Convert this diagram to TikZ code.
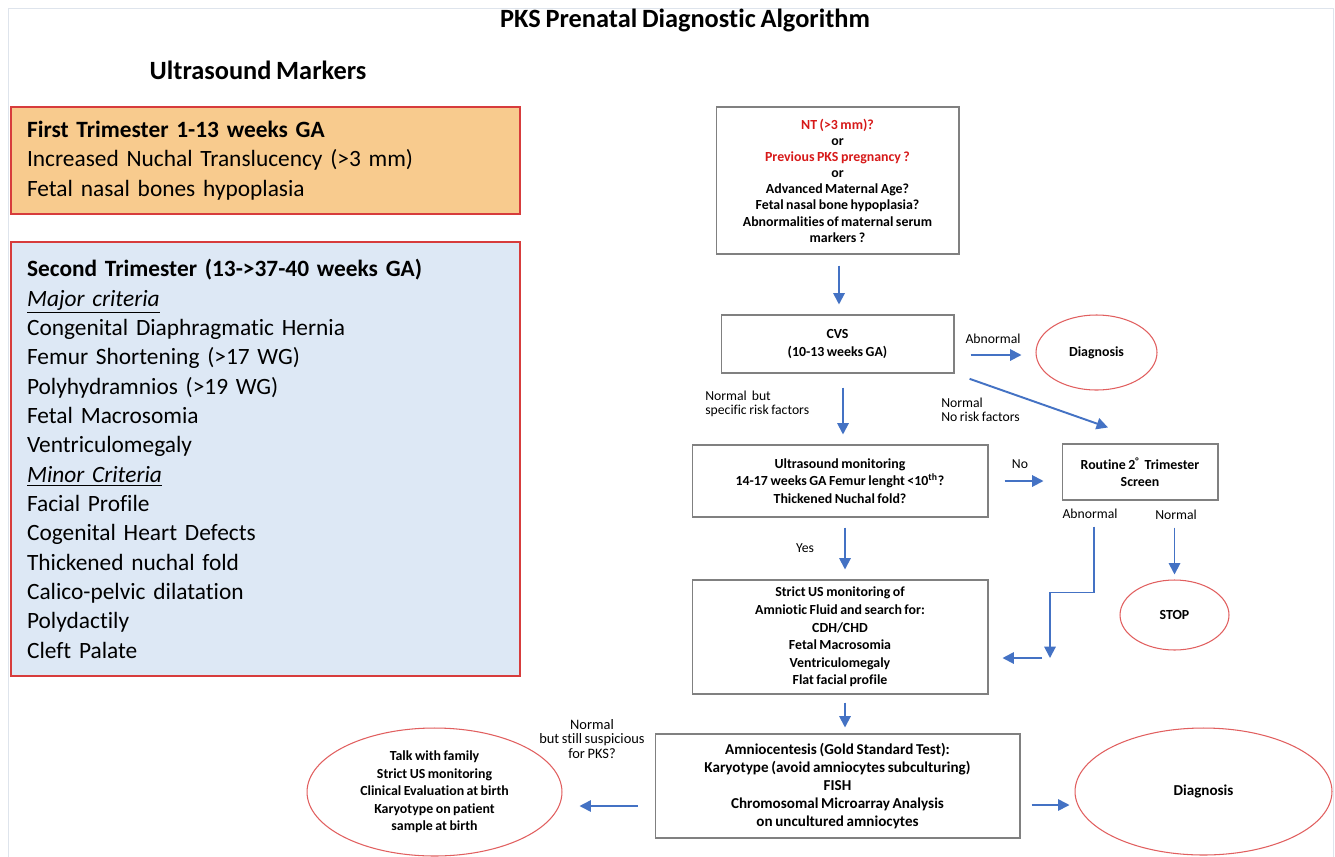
\documentclass[tikz,border=0pt]{standalone}
\usepackage{xcolor}
\usepackage{fontspec}
\setmainfont{Carlito}[Ligatures=NoCommon, WordSpace=0.8]
\usepackage{tikz}
\usetikzlibrary{shapes.geometric,arrows.meta}
\definecolor{boxgray}{RGB}{128, 128, 128}
\definecolor{pagegray}{RGB}{222, 228, 236}
\definecolor{framered}{RGB}{215, 60, 60}
\definecolor{ovalred}{RGB}{225, 95, 95}
\definecolor{alertred}{RGB}{215, 25, 25}
\definecolor{firstorange}{RGB}{248, 203, 142}
\definecolor{secondblue}{RGB}{221, 232, 245}
\definecolor{flowblue}{RGB}{68, 114, 196}

\tikzset{
    trimbox/.style={draw=framered, line width=0.8pt, align=left, anchor=center,
        inner xsep=0.32cm, text width=9.54cm, font=\fontsize{13.3}{16.7}\selectfont},
    flowbox/.style={draw=boxgray, fill=white, line width=0.6pt, align=center, inner sep=0pt,
        font=\fontsize{7.9}{10}\selectfont\bfseries},
    outcome/.style={ellipse, draw=ovalred, line width=0.6pt, align=center, inner sep=0pt,
        font=\fontsize{7.9}{10}\selectfont\bfseries},
    flowarrow/.style={draw=flowblue, line width=1.1pt, -{Triangle[length=6.5pt, width=6.5pt]}},
    flowlabel/.style={align=left, inner sep=0pt, font=\fontsize{7.8}{8.2}\selectfont}
}

\begin{document}
\begin{tikzpicture}[x=0.02cm, y=-0.02cm]
    \useasboundingbox[fill=white] (0,0) rectangle (1335,856);
    \draw[pagegray, line width=0.4pt] (8,8) rectangle (1333,870);

    % headings
    \node[font=\fontsize{15}{17}\selectfont\bfseries] (title) at (685,20) {PKS Prenatal Diagnostic Algorithm};
    \node[font=\fontsize{15}{17}\selectfont\bfseries] (markers) at (258,70) {Ultrasound Markers};

    % ultrasound markers
    \node[trimbox, fill=firstorange, minimum height=2.14cm] (first) at (265.5,160.5) {
        {\bfseries First Trimester 1-13 weeks GA}\\
        Increased Nuchal Translucency (>3 mm)\\
        Fetal nasal bones hypoplasia};
    \node[trimbox, fill=secondblue, minimum height=8.68cm] (second) at (265.5,459) {
        {\bfseries Second Trimester (13->37-40 weeks GA)}\\
        \underline{\itshape Major criteria}\\
        Congenital Diaphragmatic Hernia\\
        Femur Shortening (>17 WG)\\
        Polyhydramnios (>19 WG)\\
        Fetal Macrosomia\\
        Ventriculomegaly\\
        \underline{\itshape Minor Criteria}\\
        Facial Profile\\
        Cogenital Heart Defects\\
        Thickened nuchal fold\\
        Calico-pelvic dilatation\\
        Polydactily\\
        Cleft Palate};

    % algorithm
    \node[flowbox, minimum width=4.86cm, minimum height=2.94cm,
        font=\fontsize{7.9}{9.2}\selectfont\bfseries] (screen) at (837.5,180.5) {
        {\color{alertred}NT (>3 mm)?}\\
        or\\
        {\color{alertred}Previous PKS pregnancy ?}\\
        or\\
        Advanced Maternal Age?\\
        Fetal nasal bone hypoplasia?\\
        Abnormalities of maternal serum\\
        markers ?};
    \node[flowbox, minimum width=4.66cm, minimum height=1.16cm] (cvs) at (837.5,344) {CVS\\(10-13 weeks GA)};
    \node[outcome, minimum width=2.42cm, minimum height=1.5cm] (diagcvs) at (1096.5,352.5) {Diagnosis};
    \node[flowbox, minimum width=5.92cm, minimum height=1.44cm] (usmonitor) at (840,481) {
        Ultrasound monitoring\\
        14-17 weeks GA Femur lenght <10\textsuperscript{th}?\\
        Thickened Nuchal fold?};
    \node[flowbox, minimum width=3.12cm, minimum height=1.12cm] (routine) at (1140,472) {Routine 2\textsuperscript{°}\ \ Trimester\\Screen};
    \node[outcome, minimum width=2.18cm, minimum height=1.4cm] (stop) at (1174.5,615) {STOP};
    \node[flowbox, minimum width=5.92cm, minimum height=2.28cm] (strict) at (840,637) {
        Strict US monitoring of\\
        Amniotic Fluid and search for:\\
        CDH/CHD\\
        Fetal Macrosomia\\
        Ventriculomegaly\\
        Flat facial profile};
    \node[flowbox, minimum width=7.3cm, minimum height=2.08cm,
        font=\fontsize{8.6}{10.2}\selectfont\bfseries] (amnio) at (837.5,786) {
        Amniocentesis (Gold Standard Test):\\
        Karyotype (avoid amniocytes subculturing)\\
        FISH\\
        Chromosomal Microarray Analysis\\
        on uncultured amniocytes};
    \node[outcome, minimum width=5.14cm, minimum height=2.54cm,
        font=\fontsize{8.6}{10}\selectfont\bfseries] (diagamnio) at (1203.5,791.5) {Diagnosis};
    \node[outcome, minimum width=5.1cm, minimum height=2.56cm] (family) at (434.5,792) {
        Talk with family\\
        Strict US monitoring\\
        Clinical Evaluation at birth\\
        Karyotype on patient\\
        sample at birth};
    \coordinate (merge) at (1050,658);

    % labels
    \node[flowlabel] (lababn) at (993,339) {Abnormal};
    \node[flowlabel, anchor=west] (labrisk) at (705,404) {Normal\ \ but\\specific risk factors};
    \node[flowlabel, anchor=west] (labnorisk) at (941,410) {Normal\\No risk factors};
    \node[flowlabel] (labno) at (1020,464) {No};
    \node[flowlabel] (labrabn) at (1090,514) {Abnormal};
    \node[flowlabel] (labrnorm) at (1176,515) {Normal};
    \node[flowlabel] (labyes) at (805,548) {Yes};
    \node[flowlabel, align=center, font=\fontsize{8.2}{8.4}\selectfont] (labsusp) at (592,739) {Normal\\but still suspicious\\for PKS?};

    % connectors
    \draw[flowarrow, shorten <=0.22cm, shorten >=0.2cm] ([xshift=0.03cm]screen.south) -- ([xshift=0.03cm]cvs.north);
    \draw[flowarrow, shorten <=0.32cm, shorten >=0.28cm] ([yshift=-0.22cm]cvs.east) -- ([yshift=-0.22cm]cvs.east -| diagcvs.west);
    \draw[flowarrow, shorten <=0.28cm, shorten >=0.2cm] ([xshift=0.11cm]cvs.south) -- ([xshift=0.11cm]cvs.south |- usmonitor.north);
    \draw[flowarrow, shorten <=0.32cm] (cvs.south east) -- ([xshift=-0.64cm, yshift=0.32cm]routine.north);
    \draw[flowarrow, shorten <=0.32cm, shorten >=0.36cm] (usmonitor.east) -- (usmonitor.east -| routine.west);
    \draw[flowarrow, shorten <=0.2cm, shorten >=0.2cm] ([xshift=0.1cm]usmonitor.south) -- ([xshift=0.1cm]usmonitor.south |- strict.north);
    \draw[flowarrow, shorten <=0.54cm, shorten >=0.1cm] (routine.south -| stop.north) -- (stop.north);
    \draw[flowarrow, shorten <=0.52cm] ([xshift=-0.92cm]routine.south) -- ++(0,92) -| (merge);
    \draw[flowarrow, shorten <=0.16cm, shorten >=0.28cm] (merge) -- (merge -| strict.east);
    \draw[flowarrow, shorten <=0.16cm, shorten >=0.12cm] ([xshift=0.1cm]strict.south) -- ([xshift=0.1cm]strict.south |- amnio.north);
    \draw[flowarrow, line width=0.9pt, shorten <=0.22cm, shorten >=0.1cm] ([yshift=-0.38cm]amnio.east) -- ([yshift=-0.38cm]amnio.east -| diagamnio.west);
    \draw[flowarrow, line width=0.9pt, shorten <=0.34cm, shorten >=0.34cm] ([yshift=-0.4cm]amnio.west) -- ([yshift=-0.4cm]amnio.west -| family.east);
\end{tikzpicture}
\end{document}
